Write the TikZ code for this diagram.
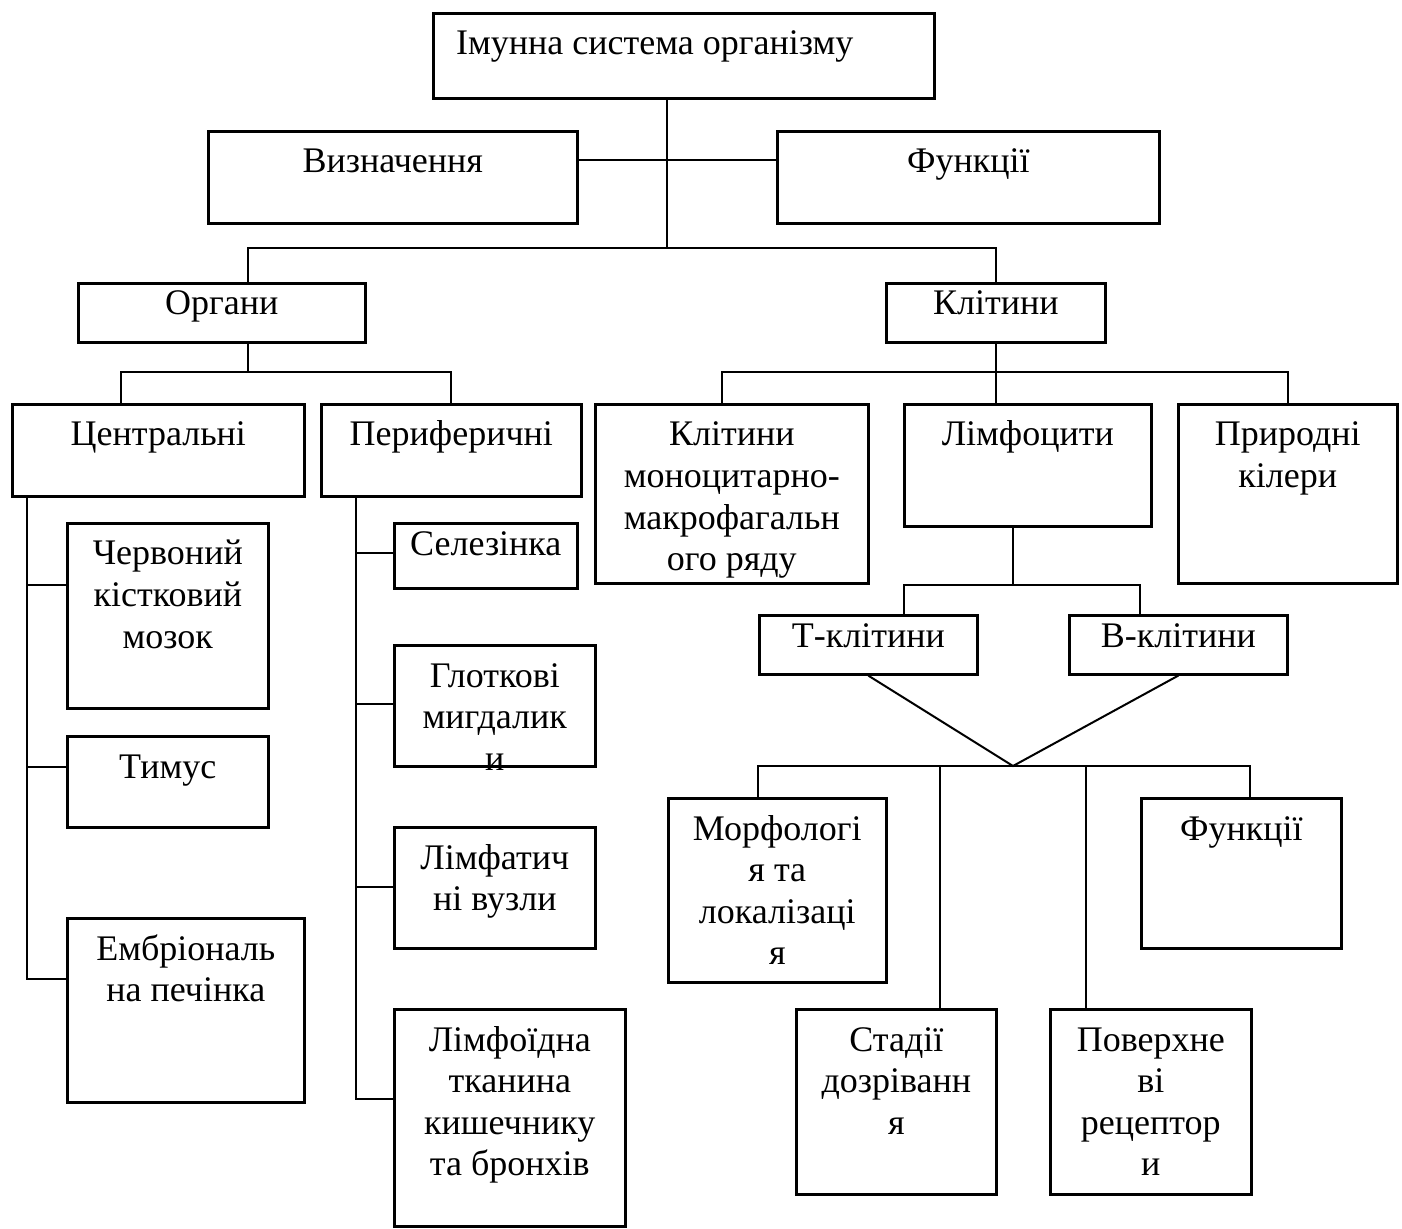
\documentclass[tikz,border=0pt]{standalone}
\usepackage{fontspec}
\setmainfont{Liberation Serif}
\usepackage{tikz}
\tikzset{
  kader/.style 2 args={draw, line width=1.3pt, anchor=north west, inner sep=0pt,
    minimum width=#1*0.5pt, minimum height=#2*0.5pt},
  % #1 = aantal regels (basislijn van de laatste regel)
  tekst/.style={anchor=base, yshift=-21.5pt-(#1-1)*20.8pt, align=center, inner sep=0pt,
    font=\fontsize{18}{20.8}\selectfont},
  tekst/.default=1,
  tekstk/.style={tekst, yshift=5pt}
}

\begin{document}
\begin{tikzpicture}[x=0.5pt, y=-0.5pt, line width=1pt]
  \useasboundingbox (0,0) rectangle (1402,1229);
  % bovenste blokken
  \node[kader={501}{85}, label={[tekst, xshift=-14.5pt]north:Імунна система організму}] (imun) at (432,12) {};
  \node[kader={369}{92}, label={[tekst]north:Визначення}] (vyzn) at (207,130) {};
  \node[kader={382}{92}, label={[tekst]north:Функції}] (funk) at (776,130) {};
  \node[kader={287}{59}, label={[tekstk]north:Органи}] (orhany) at (77,282) {};
  \node[kader={219}{59}, label={[tekstk]north:Клітини}] (klit) at (885,282) {};
  % organen
  \node[kader={292}{92}, label={[tekst]north:Центральні}] (tsentr) at (11,403) {};
  \node[kader={260}{92}, label={[tekst]north:Периферичні}] (perif) at (320,403) {};
  \node[kader={201}{185}, label={[tekst=3]north:Червоний\\кістковий\\мозок}] (cherv) at (66,522) {};
  \node[kader={201}{91}, label={[tekst]north:Тимус}] (tymus) at (66,735) {};
  \node[kader={237}{184}, label={[tekst=2]north:Ембріональ\\на печінка}] (embr) at (66,917) {};
  \node[kader={183}{65}, label={[tekstk]north:Селезінка}] (selez) at (393,522) {};
  \node[kader={201}{121}, label={[tekst=3]north:Глоткові\\мигдалик\\и}] (hlot) at (393,644) {};
  \node[kader={201}{121}, label={[tekst=2]north:Лімфатич\\ні вузли}] (limfv) at (393,826) {};
  \node[kader={231}{217}, label={[tekst=4]north:Лімфоїдна\\тканина\\кишечнику\\та бронхів}] (limft) at (393,1008) {};
  % cellen
  \node[kader={273}{179}, label={[tekst=4]north:Клітини\\моноцитарно-\\макрофагальн\\ого ряду}] (mono) at (594,403) {};
  \node[kader={247}{122}, label={[tekst]north:Лімфоцити}] (limf) at (903,403) {};
  \node[kader={219}{179}, label={[tekst=2]north:Природні\\кілери}] (kiler) at (1177,403) {};
  \node[kader={218}{59}, label={[tekstk]north:Т-клітини}] (tkl) at (758,614) {};
  \node[kader={218}{59}, label={[tekstk]north:В-клітини}] (bkl) at (1068,614) {};
  \node[kader={218}{184}, label={[tekst=4]north:Морфологі\\я та\\локалізаці\\я}] (morf) at (667,797) {};
  \node[kader={200}{150}, label={[tekst]north:Функції}] (funk2) at (1140,797) {};
  \node[kader={200}{185}, label={[tekst=3]north:Стадії\\дозріванн\\я}] (stad) at (795,1008) {};
  \node[kader={201}{185}, label={[tekst=4]north:Поверхне\\ві\\рецептор\\и}] (poverh) at (1049,1008) {};
  % knooppunten
  \coordinate (stam) at (667,248);
  \coordinate (kruis) at (667,160);
  \coordinate (orgv) at (248,372);
  \coordinate (tsl) at (121,372);
  \coordinate (monl) at (722,372);
  \coordinate (limv) at (1013,585);
  \coordinate (tl) at (904,585);
  \coordinate (bl) at (1140,585);
  \coordinate (punt) at (1013,766);
  \coordinate (morl) at (758,766);
  \coordinate (stl) at (940,766);
  \coordinate (pol) at (1086,766);
  \coordinate (fl) at (1250,766);
  \coordinate (tsk) at (27,979);
  \coordinate (tak1) at (27,585);
  \coordinate (tak2) at (27,767);
  \coordinate (psk) at (356,1099);
  \coordinate (pak1) at (356,553);
  \coordinate (pak2) at (356,704);
  \coordinate (pak3) at (356,887);
  % verbindingen boven
  \draw (imun.south -| stam) -- (stam);
  \draw (vyzn.east |- kruis) -- (funk.west |- kruis);
  \draw (orhany.north -| orgv) |- (stam) -| (klit.north);
  % organen
  \draw (orhany.south -| orgv) -- (orgv);
  \draw (tsentr.north -| tsl) -- (tsl) -| (perif.north);
  \draw (tsentr.south -| tsk) -- (tsk) -- (embr.west |- tsk);
  \draw (tak1) -- (cherv.west |- tak1);
  \draw (tak2) -- (tymus.west |- tak2);
  \draw (perif.south -| psk) -- (psk) -- (limft.west |- psk);
  \draw (pak1) -- (selez.west |- pak1);
  \draw (pak2) -- (hlot.west |- pak2);
  \draw (pak3) -- (limfv.west |- pak3);
  % cellen
  \draw (klit.south) -- (klit.south |- limf.north);
  \draw (mono.north -| monl) -- (monl) -| (kiler.north);
  \draw (limf.south -| limv) -- (limv);
  \draw (tkl.north -| tl) -- (tl) -- (bl) -- (bkl.north -| bl);
  \draw (tkl.south) -- (punt) -- (bkl.south);
  \draw (morf.north -| morl) -- (morl) -- (fl) -- (funk2.north -| fl);
  \draw (stl) -- (stad.north -| stl);
  \draw (pol) -- (poverh.north -| pol);
\end{tikzpicture}
\end{document}
